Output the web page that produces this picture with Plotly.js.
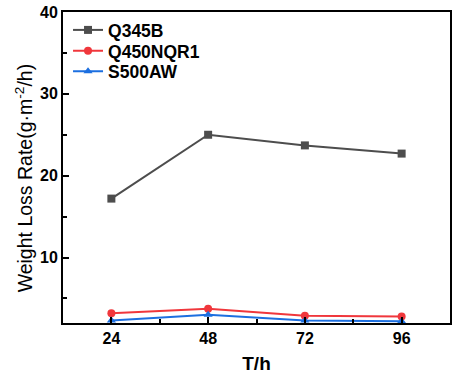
<!DOCTYPE html>
<html>
<head>
<meta charset="utf-8">
<script src="https://cdn.plot.ly/plotly-3.0.1.min.js"></script>
<style>html,body{margin:0;padding:0;background:#fff;}#chart{width:464px;height:379px;}</style>
</head>
<body>
<div id="chart"></div>
<script>
const hours = [24, 48, 72, 96];
const seriesNames = ["Q345B", "Q450NQR1", "S500AW"];
const q345b = [17.2, 25.0, 23.7, 22.7];
const q450nqr1 = [3.2, 3.75, 2.9, 2.8];
const s500aw = [2.3, 3.0, 2.3, 2.2];
const xTicks = [24, 48, 72, 96];
const yTicks = [10, 20, 30, 40];

const colors = ["#4d4d4d", "#f0373c", "#1c6fe0"];
const symbols = ["square", "circle", "triangle-up"];
const vals = [q345b, q450nqr1, s500aw];
const legendIds = ["legend", "legend2", "legend3"];
const legendY = [0.942, 0.875, 0.809];

const traces = vals.map((v, i) => ({
  x: hours, y: v, name: seriesNames[i], type: "scatter", mode: "lines+markers",
  line: {color: colors[i], width: 2},
  marker: {symbol: symbols[i], size: 8, color: colors[i]},
  cliponaxis: false,
  legend: legendIds[i]
}));

const font = {family: "Liberation Sans, Arial, sans-serif", color: "#000"};
const layout = {
  width: 464, height: 379,
  margin: {l: 63, r: 14, t: 12, b: 56},
  paper_bgcolor: "#fff", plot_bgcolor: "#fff",
  showlegend: true,
  xaxis: {
    range: [12, 108], tickvals: xTicks, ticktext: xTicks.map(String),
    showgrid: false, zeroline: false, showline: true, mirror: true, linecolor: "#000", linewidth: 2,
    ticks: "inside", ticklen: 6, tickwidth: 2, tickcolor: "#000",
    minor: {ticks: "inside", ticklen: 4, tickwidth: 2, tickcolor: "#000", dtick: 12, tick0: 12, showgrid: false},
    tickfont: {family: font.family, size: 16, color: "#000", weight: "bold"},
    title: {text: "T/h", font: {family: font.family, size: 19, color: "#000", weight: "bold"}, standoff: 10}
  },
  yaxis: {
    range: [2, 40], tickvals: yTicks, ticktext: yTicks.map(String),
    showgrid: false, zeroline: false, showline: true, mirror: true, linecolor: "#000", linewidth: 2,
    ticks: "inside", ticklen: 6, tickwidth: 2, tickcolor: "#000",
    minor: {ticks: "inside", ticklen: 4, tickwidth: 2, tickcolor: "#000", dtick: 5, tick0: 0, showgrid: false},
    tickfont: {family: font.family, size: 16, color: "#000", weight: "bold"}
  },
  annotations: [{
    text: "Weight Loss Rate(g·m<sup>-2</sup>/h)", xref: "paper", yref: "paper",
    x: -0.1, y: 0.466, xanchor: "center", yanchor: "middle", textangle: -90, showarrow: false,
    font: {family: font.family, size: 19.5, color: "#000"}
  }]
};
legendIds.forEach((id, i) => {
  layout[id] = {x: 0.013, y: legendY[i], xanchor: "left", yanchor: "middle", bgcolor: "rgba(0,0,0,0)",
    font: {family: font.family, size: 17.5, color: "#000", weight: "bold"}};
});
Plotly.newPlot("chart", traces, layout, {displayModeBar: false, staticPlot: true});
</script>
</body>
</html>
